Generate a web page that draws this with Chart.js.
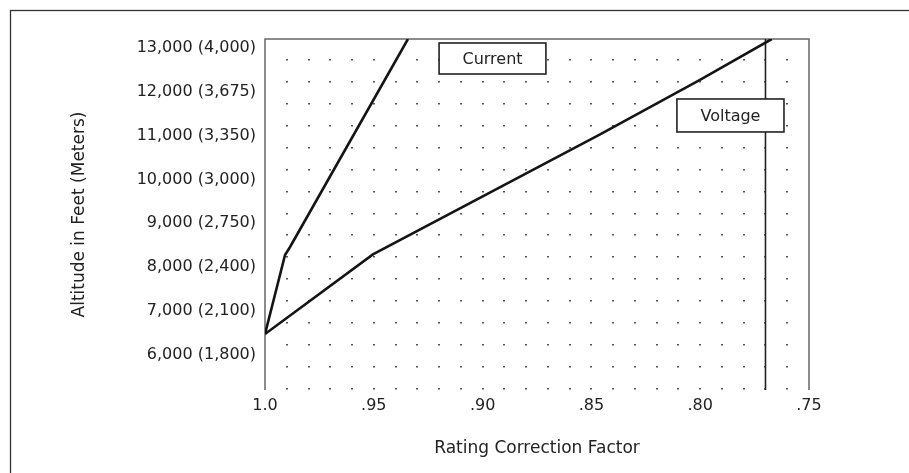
<!DOCTYPE html>
<html>
<head>
<meta charset="utf-8">
<script src="https://cdn.jsdelivr.net/npm/chart.js@4"></script>
<style>
  html, body { margin: 0; padding: 0; background: #fff; }
  canvas { display: block; }
</style>
</head>
<body>
<canvas id="altChart" width="909" height="473"></canvas>
<script>
// values
const currentFactor = [1.0, 0.9908, 0.9885, 0.9343];
const currentAltitude = [6475, 8277, 8460, 13200];
const voltageFactor = [1.0, 0.9504, 0.846, 0.8001, 0.7671];
const voltageAltitude = [6475, 8289, 11024, 12266, 13200];
const limitFactor = [0.77, 0.77];
const limitAltitude = [5200, 13200];

const altitudeTicks = [6000, 7000, 8000, 9000, 10000, 11000, 12000, 13000];
const altitudeLabels = ['6,000 (1,800)', '7,000 (2,100)', '8,000 (2,400)', '9,000 (2,750)',
    '10,000 (3,000)', '11,000 (3,350)', '12,000 (3,675)', '13,000 (4,000)'];
const factorTicks = [1.0, 0.95, 0.90, 0.85, 0.80, 0.75];
const factorLabels = ['1.0', '.95', '.90', '.85', '.80', '.75'];
const seriesNames = ['Current', 'Voltage'];

const FONT = '"DejaVu Sans", "Liberation Sans", Arial, sans-serif';
const INK = '#222';

function toPoints(xs, ys) {
    return xs.map((x, i) => ({ x: x, y: ys[i] }));
}

const paperPlugin = {
    id: 'paper',
    beforeDraw(chart) {
        const ctx = chart.ctx;
        ctx.save();
        ctx.fillStyle = '#fff';
        ctx.fillRect(0, 0, chart.width, chart.height);
        // outer frame, runs off the right and bottom edges
        ctx.strokeStyle = '#333';
        ctx.lineWidth = 1.3;
        ctx.strokeRect(10.5, 10.5, chart.width + 20, chart.height + 20);
        ctx.restore();
    },
    beforeDatasetsDraw(chart) {
        const ctx = chart.ctx;
        const xs = chart.scales.x, ys = chart.scales.y;
        const a = chart.chartArea;
        ctx.save();
        // dotted grid, one dot per 0.01 and per 500 ft
        ctx.fillStyle = '#555';
        for (let k = 1; k <= 24; k++) {
            const px = xs.getPixelForValue(1 - k / 100);
            for (let j = 1; j <= 16; j++) {
                const py = ys.getPixelForValue(13200 - j * 500);
                ctx.fillRect(Math.round(px) - 1, Math.round(py) - 2, 2, 1.5);
            }
        }
        // left, top and right edges of the plot (no bottom edge)
        ctx.strokeStyle = '#666';
        ctx.lineWidth = 1.5;
        ctx.beginPath();
        ctx.moveTo(a.left, a.bottom);
        ctx.lineTo(a.left, a.top);
        ctx.lineTo(a.right, a.top);
        ctx.lineTo(a.right, a.bottom);
        ctx.stroke();
        ctx.restore();
    },
    afterDatasetsDraw(chart) {
        const ctx = chart.ctx;
        const xs = chart.scales.x, ys = chart.scales.y;
        const boxes = [
            { x0: 0.92, x1: 0.8709, y0: 13109, y1: 12402 },
            { x0: 0.8107, x1: 0.7615, y0: 11833, y1: 11081 }
        ];
        ctx.save();
        boxes.forEach((b, i) => {
            const l = xs.getPixelForValue(b.x0), r = xs.getPixelForValue(b.x1);
            const t = ys.getPixelForValue(b.y0), btm = ys.getPixelForValue(b.y1);
            ctx.fillStyle = '#fff';
            ctx.fillRect(l, t, r - l, btm - t);
            ctx.strokeStyle = INK;
            ctx.lineWidth = 1.6;
            ctx.strokeRect(l, t, r - l, btm - t);
            ctx.fillStyle = INK;
            ctx.font = '16px ' + FONT;
            ctx.textAlign = 'center';
            ctx.textBaseline = 'middle';
            ctx.fillText(seriesNames[i], (l + r) / 2, (t + btm) / 2 + 1);
        });
        ctx.restore();
    }
};

const ctx = document.getElementById('altChart').getContext('2d');
new Chart(ctx, {
    type: 'scatter',
    data: {
        datasets: [
            {
                label: seriesNames[0],
                data: toPoints(currentFactor, currentAltitude),
                showLine: true,
                borderColor: '#151515',
                borderWidth: 2.6,
                pointRadius: 0,
                tension: 0
            },
            {
                label: seriesNames[1],
                data: toPoints(voltageFactor, voltageAltitude),
                showLine: true,
                borderColor: '#151515',
                borderWidth: 2.6,
                pointRadius: 0,
                tension: 0
            },
            {
                label: 'limit',
                data: toPoints(limitFactor, limitAltitude),
                showLine: true,
                borderColor: '#222',
                borderWidth: 1.6,
                pointRadius: 0
            }
        ]
    },
    options: {
        responsive: false,
        animation: false,
        layout: {
            padding: { left: 0, top: 39, right: 100, bottom: 0 }
        },
        plugins: {
            legend: { display: false },
            tooltip: { enabled: false }
        },
        scales: {
            x: {
                type: 'linear',
                reverse: true,
                min: 0.75,
                max: 1.0,
                afterBuildTicks: function (scale) {
                    scale.ticks = factorTicks.map(v => ({ value: v }));
                },
                afterFit: function (scale) {
                    scale.height = 83;
                },
                grid: { display: false, drawTicks: false },
                border: { display: false },
                ticks: {
                    padding: 6,
                    color: INK,
                    font: { family: FONT, size: 16 },
                    maxRotation: 0,
                    callback: function (value, index) {
                        return factorLabels[index];
                    }
                },
                title: {
                    display: true,
                    text: 'Rating Correction Factor',
                    color: INK,
                    font: { family: FONT, size: 17 },
                    padding: { top: 0, bottom: 14 }
                }
            },
            y: {
                type: 'linear',
                min: 5200,
                max: 13200,
                afterBuildTicks: function (scale) {
                    scale.ticks = altitudeTicks.map(v => ({ value: v }));
                },
                afterFit: function (scale) {
                    scale.width = 265;
                },
                grid: { display: false, drawTicks: false },
                border: { display: false },
                ticks: {
                    padding: 9,
                    color: INK,
                    font: { family: FONT, size: 16 },
                    callback: function (value, index) {
                        return altitudeLabels[index];
                    }
                },
                title: {
                    display: true,
                    text: 'Altitude in Feet (Meters)',
                    color: INK,
                    font: { family: FONT, size: 17 },
                    padding: { top: 69, bottom: 0 }
                }
            }
        }
    },
    plugins: [paperPlugin]
});
</script>
</body>
</html>
